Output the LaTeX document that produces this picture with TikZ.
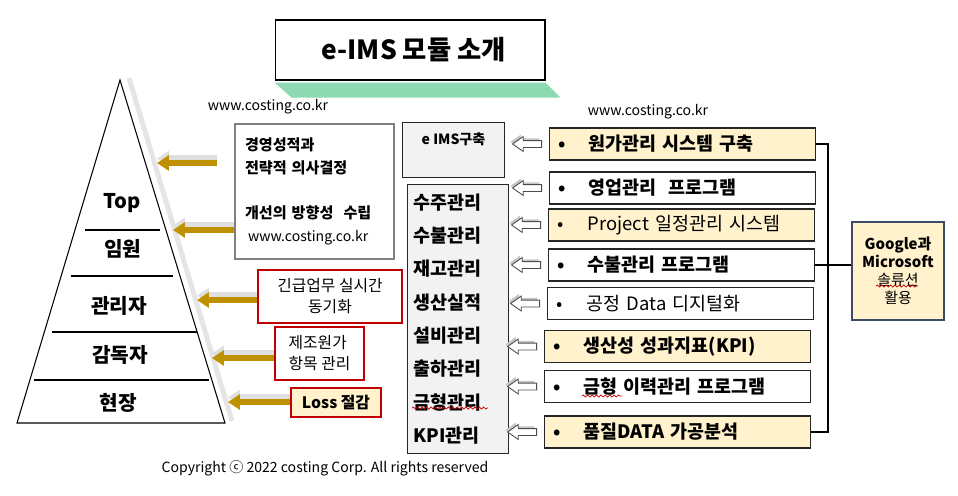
\documentclass[tikz,border=0pt]{standalone}
\usepackage{fontspec}
\setmainfont{Noto Sans CJK KR}
\usepackage{xcolor}
\definecolor{eyellow}{RGB}{255,242,204}
\definecolor{egold}{RGB}{191,144,0}
\definecolor{egreen}{RGB}{140,217,178}
\definecolor{ered}{RGB}{192,0,0}
\definecolor{eslate}{RGB}{59,74,102}
\definecolor{egray}{RGB}{242,242,242}
\usetikzlibrary{arrows.meta,positioning,shapes.arrows,shadows,calc,decorations.pathmorphing}
\newcommand{\modbullet}{\makebox[0.6cm][l]{•}}

\begin{document}
\begin{tikzpicture}[x=0.02cm,y=-0.02cm,
  titlebox/.style={draw,line width=0.6pt,minimum width=5.4cm,minimum height=1.2cm,
        font=\fontsize{15}{18}\selectfont\bfseries},
  midbox/.style={draw=black!85,fill=egray,line width=0.6pt,anchor=north west},
  redbox/.style={draw=ered,line width=0.6pt,fill=white,minimum height=1.06cm,
        font=\fontsize{9}{12}\selectfont},
  rbox/.style={draw=black!85,line width=0.8pt,text width=4.96cm,inner xsep=0.18cm,
        minimum height=0.64cm,align=left,anchor=west,font=\fontsize{10.5}{12}\selectfont},
  hibox/.style={rbox,fill=eyellow},
  level/.style={font=\fontsize{11.5}{13}\selectfont\bfseries},
  url/.style={font=\fontsize{8}{10}\selectfont},
  goldarr/.style={draw=egold,line width=0.12cm,-{Triangle[length=0.24cm,width=0.3cm]}},
  goldshade/.style={goldarr,draw=gray!25,transform canvas={yshift=2.6pt}},
  harrow/.style={single arrow,draw=black!70,fill=white,line width=0.5pt,
        shape border rotate=180,minimum height=0.58cm,inner xsep=0pt,inner ysep=0.06cm,
        single arrow head extend=0.08cm,single arrow tip angle=70,
        general shadow={fill=gray!45,shadow xshift=-1.2pt,shadow yshift=1.2pt}},
  squiggle/.style={draw=ered,line width=0.4pt,decorate,
        decoration={snake,amplitude=0.6pt,segment length=2.5pt}},
  bus/.style={line width=1.1pt}]
  \useasboundingbox (0,0) rectangle (958,495);

  %% Title
  \node[titlebox] (title) at (410,50) {\hspace*{0.15cm}e-IMS 모듈 소개};
  \fill[egreen] ($(title.south west)+(0,2)$) -- ($(title.south east)+(0,2)$)
        -- ($(title.south east)+(15,17)$) -- ($(title.south west)+(17,17)$) -- cycle;
  \node[url] (url1) at (268,107) {www.costing.co.kr};
  \node[url] (url2) at (648,112) {www.costing.co.kr};

  %% Pyramid
  \coordinate (apex) at (120,80);
  \coordinate (bl) at (17,423);
  \coordinate (br) at (225,423);
  \draw[gray!20,line width=0.1cm] (129,78) -- (232,421);
  \draw[line width=0.6pt] (bl) -- (apex) -- (br) -- cycle;
  \draw[line width=0.6pt] (85,230) -- (160,230);
  \draw[line width=0.6pt] (71,276) -- (173,276);
  \draw[line width=0.6pt] (52,332) -- (197,332);
  \draw[line width=0.6pt] (34,380) -- (209,380);
  \node[level] (lvtop) at (122,203) {Top};
  \node[level] (lvexec) at (123,249) {임원};
  \node[level] (lvmgr) at (119,306) {관리자};
  \node[level] (lvsup) at (120,355) {감독자};
  \node[level] (lvfield) at (118,403) {현장};
  \coordinate (py1) at (157,163);
  \coordinate (py2) at (173,230);
  \coordinate (py3) at (197,300);
  \coordinate (py4) at (212,358);
  \coordinate (py5) at (228,402);

  %% Left boxes
  \node[draw=black!50,line width=0.6pt,text width=2.78cm,inner xsep=0.2cm,
        minimum height=2.7cm,align=left,font=\fontsize{8.6}{13}\selectfont\bfseries]
        (summ) at (314.5,191.5)
        {경영성적과\\전략적 의사결정\\[13pt]개선의 방향성\ \ 수립\\
         {\mdseries\fontsize{8}{13}\selectfont\hspace*{0.06cm}www.costing.co.kr}};
  \node[redbox,minimum width=2.88cm,align=center] (urgent) at (330,296.5)
        {긴급업무 실시간\\동기화};
  \node[redbox,minimum width=1.78cm,align=left] (cost) at (319.5,353.5)
        {제조원가\\항목 관리};
  \node[redbox,minimum width=1.8cm,minimum height=0.58cm,fill=eyellow,
        font=\fontsize{9}{12}\selectfont\bfseries] (loss) at (336,402.5) {Loss 절감};

  \draw[goldshade,shorten <=0.34cm] (summ.west |- py1) -- (py1);
  \draw[goldshade] (summ.west |- py2) -- (py2);
  \draw[goldshade] (urgent.west |- py3) -- (py3);
  \draw[goldshade] (cost.west |- py4) -- (py4);
  \draw[goldshade] (loss.west |- py5) -- (py5);
  \draw[goldarr,shorten <=0.34cm] (summ.west |- py1) -- (py1);
  \draw[goldarr] (summ.west |- py2) -- (py2);
  \draw[goldarr] (urgent.west |- py3) -- (py3);
  \draw[goldarr] (cost.west |- py4) -- (py4);
  \draw[goldarr] (loss.west |- py5) -- (py5);

  %% Middle column
  \node[midbox,minimum width=2.04cm,minimum height=1.1cm,align=center,
        font=\fontsize{8}{13.5}\selectfont\bfseries] (eims) at (402,122)
        {e IMS구축\\\mbox{}};
  \node[midbox,text width=1.78cm,inner xsep=0.12cm,minimum height=5.38cm,align=left,
        font=\fontsize{10.5}{19}\selectfont\bfseries] (mods) at (407,184)
        {수주관리\\수불관리\\재고관리\\생산실적\\설비관리\\출하관리\\금형관리\\KPI관리};
  \draw[squiggle] (412,408) -- (488,408);

  %% Right boxes
  \node[hibox,font=\fontsize{10.5}{12}\selectfont\bfseries] (r1) at (549,144)
        {\modbullet 원가관리 시스템 구축};
  \node[rbox,font=\fontsize{10.5}{12}\selectfont\bfseries] (r2) at (549,188)
        {\modbullet 영업관리\ \ 프로그램};
  \node[hibox] (r3) at (548,225) {\modbullet Project 일정관리 시스템};
  \node[rbox,font=\fontsize{10.5}{12}\selectfont\bfseries] (r4) at (548,265)
        {\modbullet 수불관리 프로그램};
  \node[rbox] (r5) at (547,303.5) {\modbullet 공정 Data 디지털화};
  \node[hibox,font=\fontsize{10.5}{12}\selectfont\bfseries] (r6) at (544,346.5)
        {\modbullet 생산성 성과지표(KPI)};
  \node[rbox,font=\fontsize{10.5}{12}\selectfont\bfseries] (r7) at (544,386.5)
        {\modbullet 금형 이력관리 프로그램};
  \node[hibox,font=\fontsize{10.5}{12}\selectfont\bfseries] (r8) at (544,432)
        {\modbullet 품질DATA 가공분석};
  \draw[squiggle] (582,396) -- (622,396);

  \node[harrow,left=0.14cm of r1] (h1) {};
  \node[harrow,left=0.14cm of r2] (h2) {};
  \node[harrow,left=0.14cm of r3] (h3) {};
  \node[harrow,left=0.14cm of r4] (h4) {};
  \node[harrow,left=0.14cm of r5] (h5) {};
  \node[harrow,left=0.14cm of r6] (h6) {};
  \node[harrow,left=0.14cm of r7] (h7) {};
  \node[harrow,left=0.14cm of r8] (h8) {};

  %% Google box
  \node[draw=eslate,fill=eyellow,line width=0.8pt,minimum width=1.84cm,
        minimum height=1.96cm,align=center,font=\fontsize{8.5}{10.2}\selectfont]
        (gbox) at (898,271)
        {\textbf{Google과}\\\textbf{Microsoft}\\솔류션\\활용};
  \draw[squiggle] (876,286) -- (918,286);
  \coordinate (busx) at (828,0);
  \draw[bus] (r1.east) -- (r1.east -| busx) -- (r8.east -| busx) -- (r8.east);
  \draw[bus] (r4.east) -- (r4.east -| gbox.west);

  \node[url] (copy) at (325,468) {Copyright ⓒ 2022 costing Corp. All rights reserved};
\end{tikzpicture}
\end{document}
